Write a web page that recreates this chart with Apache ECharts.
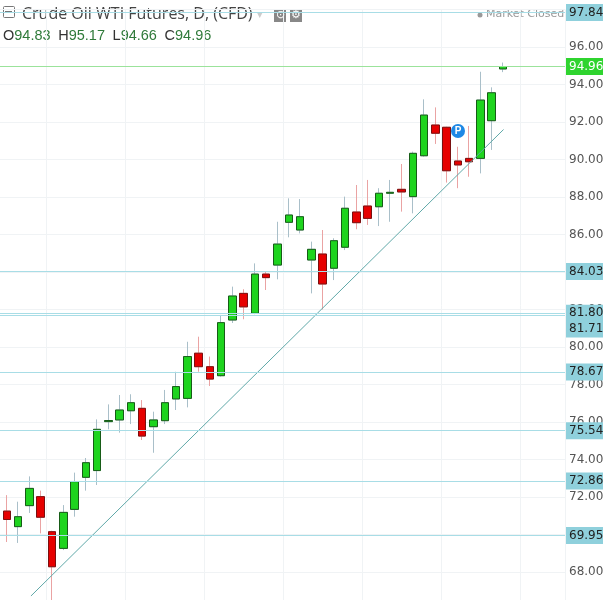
<!DOCTYPE html>
<html>
<head>
<meta charset="utf-8">
<script src="https://cdn.jsdelivr.net/npm/echarts@6/dist/echarts.min.js"></script>
<style>
  html, body { margin: 0; padding: 0; background: #fff; }
  #chart { width: 603px; height: 600px; }
</style>
</head>
<body>
<div id="chart"></div>
<script>
// open, close, low, high per day (first one is cut by the left edge)
const opens  = [71.8, 71.25, 70.42, 71.54, 72.02, 70.15, 69.26, 71.34, 73.05, 73.41, 76.02, 76.11, 76.6, 76.73, 75.75, 76.07, 77.23, 77.26, 79.67, 78.95, 78.47, 81.44, 82.86, 81.8, 83.89, 84.37, 86.65, 86.24, 84.64, 84.96, 84.2, 85.32, 87.2, 87.52, 87.48, 88.2, 88.41, 88.02, 90.2, 91.84, 91.72, 89.92, 90.06, 90.06, 92.07, 94.83];
const closes = [71.2, 70.8, 70.95, 72.46, 70.92, 68.28, 71.18, 72.82, 73.83, 75.61, 76.08, 76.64, 77.03, 75.25, 76.11, 77.03, 77.89, 79.49, 78.95, 78.29, 81.3, 82.72, 82.14, 83.89, 83.7, 85.49, 87.04, 86.95, 85.21, 83.36, 85.67, 87.4, 86.63, 86.86, 88.2, 88.25, 88.27, 90.33, 92.37, 91.4, 89.4, 89.71, 89.88, 93.17, 93.56, 94.96];
const lows   = [70.5, 69.6, 69.55, 71.15, 70.06, 66.4, 69.17, 70.95, 72.34, 72.64, 75.61, 75.43, 75.89, 75.04, 74.36, 75.89, 76.64, 76.78, 78.68, 77.92, 78.42, 81.28, 81.48, 81.75, 83.04, 83.61, 85.85, 86.06, 82.86, 82.0, 83.57, 85.17, 86.28, 86.51, 86.45, 86.68, 87.22, 87.13, 90.15, 90.83, 88.77, 88.47, 89.08, 89.26, 90.51, 94.66];
const highs  = [72.3, 72.1, 71.75, 73.1, 72.34, 70.2, 71.57, 73.3, 74.08, 76.14, 76.94, 77.44, 77.48, 77.17, 76.55, 77.71, 78.68, 80.28, 80.55, 79.49, 81.71, 83.22, 83.08, 84.46, 84.02, 86.68, 87.93, 87.89, 85.62, 86.24, 85.8, 88.02, 88.64, 88.91, 88.47, 88.91, 89.76, 90.42, 93.21, 92.78, 91.75, 90.68, 91.79, 94.68, 93.85, 95.17];
const emptySlots = 5;
const levels = [97.84, 84.03, 81.80, 81.71, 78.67, 75.54, 72.86, 69.95];
const lastClose = 94.96;
const trendX = [3.13, 45.05];
const trendY = [66.72, 91.6];

const days = opens.map((_, i) => 'd' + i).concat(Array.from({length: emptySlots}, (_, i) => 'e' + i));
const wickData = opens.map((o, i) => [o, closes[i], lows[i], highs[i]]);
const bodyData = opens.map((o, i) => [o, closes[i], Math.min(o, closes[i]), Math.max(o, closes[i])]);

const chart = echarts.init(document.getElementById('chart'));
const option = {
  animation: false,
  textStyle: { fontFamily: 'DejaVu Sans' },
  grid: { left: -10, right: 38, top: 9.5, bottom: -9.5, containLabel: false, outerBoundsMode: 'none' },
  xAxis: [
    {
      type: 'category', data: days, boundaryGap: true,
      axisLine: { show: false }, axisTick: { show: false }, axisLabel: { show: false },
      splitLine: { show: true, interval: (i) => i % 7 === 5, lineStyle: { color: '#f0f3f5' } }
    },
    { type: 'value', min: -0.5, max: days.length - 0.5, show: false }
  ],
  yAxis: {
    type: 'value', position: 'right', min: 66, max: 98, interval: 2,
    axisLine: { show: true, lineStyle: { color: '#555' } },
    axisTick: { show: true, length: 4, lineStyle: { color: '#555' } },
    axisLabel: {
      color: '#555', fontSize: 12, margin: 4,
      formatter: v => (v === 98 || v === 66) ? '' : v.toFixed(2)
    },
    splitLine: { show: true, lineStyle: { color: '#f0f3f5' } }
  },
  series: [
    {
      type: 'candlestick', data: wickData, barWidth: 8,
      itemStyle: { color: 'transparent', color0: 'transparent', borderColor: '#a9bfc9', borderColor0: '#eaa3a3', borderWidth: 1 },
      markLine: {
        symbol: 'none', silent: true,
        lineStyle: { color: '#a8dde6', type: 'solid', width: 1 },
        label: {
          position: 'end', distance: 1, color: '#222', fontSize: 12,
          backgroundColor: '#8fd0dc', padding: [3, 3, 2, 3],
          formatter: p => p.value.toFixed(2)
        },
        data: levels.map(v => v === 81.71 ? { yAxis: v, label: { offset: [0, 14] } } : { yAxis: v }).concat([
          { yAxis: lastClose, lineStyle: { color: '#9be39b' }, label: { backgroundColor: '#2fd42f', color: '#fff' } }
        ])
      }
    },
    {
      type: 'candlestick', data: bodyData, barWidth: 8,
      itemStyle: { color: '#1ed41e', color0: '#e60000', borderColor: '#175c17', borderColor0: '#7a1010', borderWidth: 1 }
    },
    {
      type: 'line', xAxisIndex: 1, data: trendX.map((x, i) => [x, trendY[i]]),
      symbol: 'none', lineStyle: { color: '#5fa8a8', width: 1 }
    }
  ],
  graphic: [
    { type: 'rect', left: 3, top: 6, shape: { width: 11, height: 11, r: 1 }, style: { fill: '#fff', stroke: '#777', lineWidth: 1 } },
    { type: 'rect', left: 5, top: 11, shape: { width: 7, height: 1 }, style: { fill: '#777' } },
    { type: 'text', left: 22, top: 6, style: { text: 'Crude Oil WTI Futures, D, (CFD)', fill: '#444', fontSize: 16, fontFamily: 'Open Sans' } },
    { type: 'text', left: 257, top: 9, style: { text: '▾', fill: '#ccc', fontSize: 11 } },
    { type: 'rect', left: 274, top: 10, shape: { width: 12, height: 12 }, style: { fill: '#888' } },
    { type: 'text', left: 276, top: 9, style: { text: '⊙', fill: '#fff', fontSize: 11 } },
    { type: 'rect', left: 290, top: 10, shape: { width: 12, height: 12 }, style: { fill: '#888' } },
    { type: 'text', left: 291, top: 9, style: { text: '⚙', fill: '#fff', fontSize: 11 } },
    { type: 'text', left: 3, top: 28, style: { rich: { k: { fill: '#333', fontSize: 14.5 }, v: { fill: '#2f7a3a', fontSize: 14.5 } },
      text: '{k|O}{v|94.83}  {k|H}{v|95.17}  {k|L}{v|94.66}  {k|C}{v|94.96}', fontFamily: 'DejaVu Sans' } },
    { type: 'circle', shape: { cx: 480, cy: 15, r: 2.5 }, style: { fill: '#999' } },
    { type: 'text', left: 486, top: 9, style: { text: 'Market Closed', fill: '#999', fontSize: 11, fontFamily: 'DejaVu Sans' } },
    { type: 'circle', shape: { cx: 458, cy: 131, r: 7 }, style: { fill: '#1e88e5' } },
    { type: 'text', x: 458, y: 131, style: { text: 'P', fill: '#fff', fontSize: 10, fontWeight: 'bold', align: 'center', verticalAlign: 'middle' } }
  ]
};
chart.setOption(option);
</script>
</body>
</html>
